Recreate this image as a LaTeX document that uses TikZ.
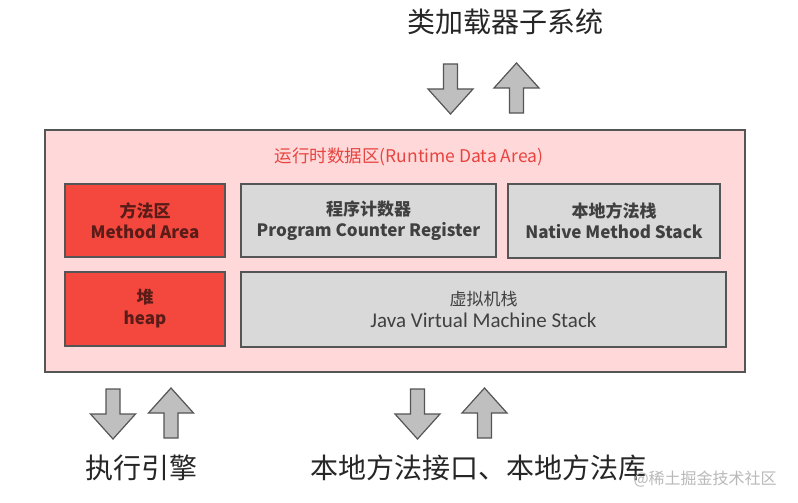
\documentclass[tikz,border=0pt]{standalone}
\usepackage{fontspec}
\setmainfont{Noto Sans CJK SC}
\newfontfamily\carlito{Carlito}
\definecolor{pinkbg}{HTML}{FFD9D9}
\definecolor{redbox}{HTML}{F4473D}
\definecolor{graybox}{HTML}{D9D9D9}
\definecolor{edge}{HTML}{555555}
\definecolor{redtxt}{HTML}{E8433F}
\definecolor{darkred}{HTML}{5A1C18}
\definecolor{arrowfill}{HTML}{BFBFBF}
\tikzset{
  arrowst/.style={draw=edge, fill=arrowfill, line width=1.2pt, line join=miter},
  downblk/.pic={\draw[arrowst] (-7,-25) -- (7,-25) -- (7,0) -- (22.5,0) -- (0,25) -- (-22.5,0) -- (-7,0) -- cycle;},
  upblk/.pic={\draw[arrowst] (-7,25) -- (7,25) -- (7,0) -- (22.5,0) -- (0,-25) -- (-22.5,0) -- (-7,0) -- cycle;},
  areabox/.style={draw=edge, line width=1.3pt, inner sep=0pt, align=center,
    font=\fontsize{17}{21}\selectfont\bfseries},
  redarea/.style={areabox, fill=redbox, text=darkred},
  grayarea/.style={areabox, fill=graybox, text=black!75},
  bigtext/.style={font=\fontsize{28}{30}\selectfont, text=black!85}
}
\begin{document}
\begin{tikzpicture}[x=1pt,y=-1pt]
\useasboundingbox[fill=white] (0,0) rectangle (798,503);
% outer box
\node[draw=edge, fill=pinkbg, line width=1.5pt, minimum width=700pt, minimum height=242pt, inner sep=0pt] (rda) at (395,251) {};
\node[text=redtxt, font=\fontsize{17.5}{20}\selectfont] (rdatitle) at (409,157) {运行时数据区(Runtime Data Area)};
% inner boxes
\node[redarea, minimum width=160pt, minimum height=73pt] (method) at (145,220.5) {方法区\\Method Area};
\node[grayarea, minimum width=255pt, minimum height=73pt] (pc) at (368.5,220.5) {程序计数器\\Program Counter Register};
\node[grayarea, minimum width=212pt, minimum height=74pt] (native) at (614,221) {本地方法栈\\Native Method Stack};
\node[redarea, minimum width=160pt, minimum height=74pt] (heap) at (145,309) {堆\\heap};
\node[grayarea, minimum width=485pt, minimum height=75pt, font=\fontsize{17}{22}\selectfont] (jvm) at (483.5,309.5) {虚拟机栈\\{\carlito\fontsize{21}{22}\selectfont Java Virtual Machine Stack}};
% outside labels
\node[bigtext] (cls) at (505,22) {类加载器子系统};
\node[bigtext] (exe) at (141,468) {执行引擎};
\node[bigtext] (nat) at (478,468) {本地方法接口、本地方法库};
\node[text=gray!55, font=\fontsize{16}{18}\selectfont, anchor=west] (wm) at (630,479) {@稀土掘金技术社区};
% block arrows
\pic at (450.5,89) {downblk};
\pic at (516.5,88) {upblk};
\pic at (113,414) {downblk};
\pic at (171,413) {upblk};
\pic at (417.5,414) {downblk};
\pic at (484.5,413) {upblk};
\end{tikzpicture}
\end{document}
